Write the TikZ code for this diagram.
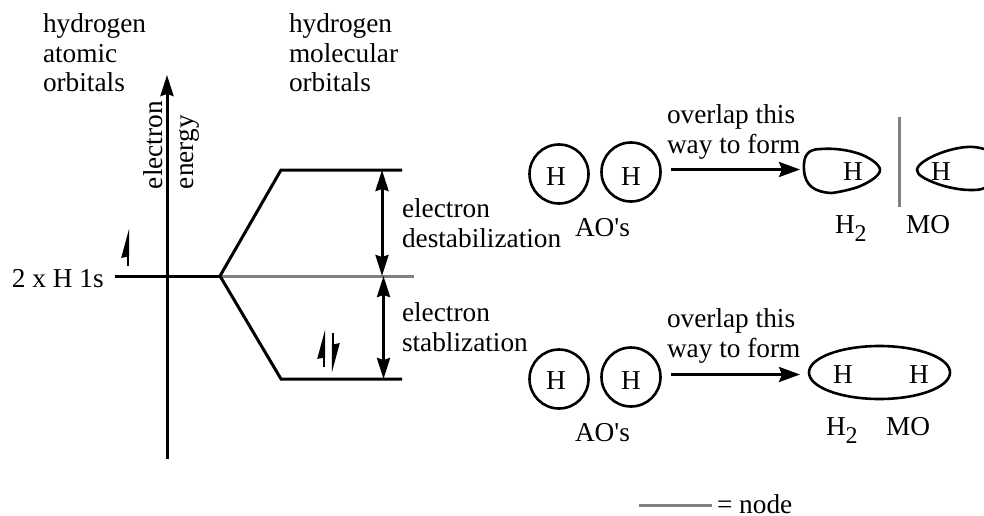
\documentclass[tikz,border=0pt]{standalone}
\usepackage{fontspec}
\setmainfont{Liberation Serif}
\newfontfamily\plainserif{Liberation Serif}
\usetikzlibrary{arrows.meta}
\tikzset{
  txt/.style={inner sep=0pt,outer sep=0pt,anchor=base west,align=left,font=\fontsize{27.3}{29.5}\selectfont},
  heavy/.style={line width=3pt,line cap=butt,line join=miter},
  nodeline/.style={line width=3pt,draw=black!50},
  outline/.style={line width=2.6pt},
  atom/.style={circle,draw,line width=2.6pt,minimum size=59pt,inner sep=0pt,outer sep=0pt},
  big/.style={-{Stealth[length=21pt,width=13pt,inset=2pt]},heavy},
  dbl/.style={{Stealth[length=21pt,width=13pt,inset=2pt]}-{Stealth[length=21pt,width=13pt,inset=2pt]},heavy},
  wide/.style={-{Stealth[length=21pt,width=15pt,inset=3pt]},heavy},
  spin/.style={-{Stealth[harpoon,length=25pt,width=13pt,inset=1pt]},line width=2.4pt},
}
\newcommand{\subtwo}{\raisebox{-8pt}{\fontsize{24}{24}\selectfont 2}}
\begin{document}
\begin{tikzpicture}[x=1pt,y=-1pt]
\useasboundingbox (0,0) rectangle (984,516);
% key points
\coordinate (axB) at (167,459); \coordinate (axT) at (167,75);
\coordinate (lvL) at (115,276); \coordinate (split) at (220,276);
\coordinate (nodeR) at (414,276);
\coordinate (upA) at (281,170); \coordinate (upB) at (402,170);
\coordinate (loA) at (281,379); \coordinate (loB) at (402,379);
\coordinate (dA1) at (382,170); \coordinate (dA2) at (382,276);
\coordinate (dB1) at (383.5,276); \coordinate (dB2) at (383.5,379);
% grey node line first
\draw[nodeline] (split) -- (nodeR);
\draw[big] (axB) -- (axT);
\draw[heavy] (lvL) -- (split);
\draw[heavy] (split) -- (upA) -- (upB);
\draw[heavy] (split) -- (loA) -- (loB);
\draw[dbl] (dA1) -- (dA2);
\draw[dbl] (dB1) -- (dB2);
% spins
\coordinate (s1a) at (128,266); \coordinate (s1b) at (128,228);
\coordinate (s2a) at (324,367); \coordinate (s2b) at (324,329);
\coordinate (s3a) at (333,333); \coordinate (s3b) at (333,373);
\draw[spin] (s1a) -- (s1b);
\draw[spin] (s2a) -- (s2b);
\draw[spin] (s3a) -- (s3b);
% left texts
\node[txt] (t1) at (43,92) {hydrogen\\atomic\\orbitals};
\node[txt] (t2) at (289,92) {hydrogen\\molecular\\orbitals};
\node[txt] (t3) at (12,287) {2 x H 1s};
\node[txt,rotate=90] (t4) at (162,189) {electron};
\node[txt,rotate=90] (t5) at (193,189) {energy};
\node[txt] (t6) at (402,247) {electron\\destabilization};
\node[txt] (t7) at (402,351) {electron\\stablization};
% top row
\node[atom] (c1) at (559,174) {};
\node[atom] (c2) at (631,172) {};
\node[txt,anchor=base] (h1) at (556,185) {H};
\node[txt,anchor=base] (h2) at (631,185) {H};
\node[txt] (o1) at (667,153) {overlap this\\way to form};
\coordinate (a1s) at (671,169.5); \coordinate (a1e) at (800,169.5);
\draw[wide] (a1s) -- (a1e);
\draw[outline] (804,170) .. controls (803,155) and (808,149) .. (821,149)
  .. controls (835,148) and (848,150) .. (860,154)
  .. controls (868,157) and (880,164) .. (880,170)
  .. controls (880,176) and (868,183) .. (858,187)
  .. controls (846,191) and (833,193) .. (831,193)
  .. controls (815,192) and (805,186) .. (804,170) -- cycle;
\node[txt,anchor=base] (h3) at (853,180) {H};
\draw[nodeline] (899,117) -- (899,207);
\draw[outline] (984,149) .. controls (974,146) and (965,146) .. (950,150)
  .. controls (935,154) and (917,163) .. (917,170)
  .. controls (917,175) and (925,179) .. (935,183)
  .. controls (945,187) and (960,190) .. (970,190)
  .. controls (976,190) and (981,190) .. (984,188);
\node[txt,anchor=base] (h4) at (941,180) {H};
\node[txt] (ao1) at (575,236) {\plainserif AO's};
\node[txt] (h2a) at (835,233) {H\subtwo};
\node[txt] (mo1) at (906,233) {MO};
% bottom row
\node[atom] (c3) at (559,379) {};
\node[atom] (c4) at (631,377) {};
\node[txt,anchor=base] (h5) at (556,389) {H};
\node[txt,anchor=base] (h6) at (631,389) {H};
\node[txt] (o2) at (667,357) {overlap this\\way to form};
\coordinate (a2s) at (671,374.5); \coordinate (a2e) at (800,374.5);
\draw[wide] (a2s) -- (a2e);
\draw[outline] (879.5,372.5) ellipse [x radius=70.5,y radius=26.5];
\node[txt,anchor=base] (h7) at (843,383) {H};
\node[txt,anchor=base] (h8) at (919,383) {H};
\node[txt] (ao2) at (575,441) {\plainserif AO's};
\node[txt] (h2b) at (826,435) {H\subtwo};
\node[txt] (mo2) at (886,435) {MO};
% legend
\coordinate (lg1) at (639,505); \coordinate (lg2) at (712,505);
\draw[nodeline] (lg1) -- (lg2);
\node[txt] (lg) at (717,513) {= node};
\end{tikzpicture}
\end{document}
